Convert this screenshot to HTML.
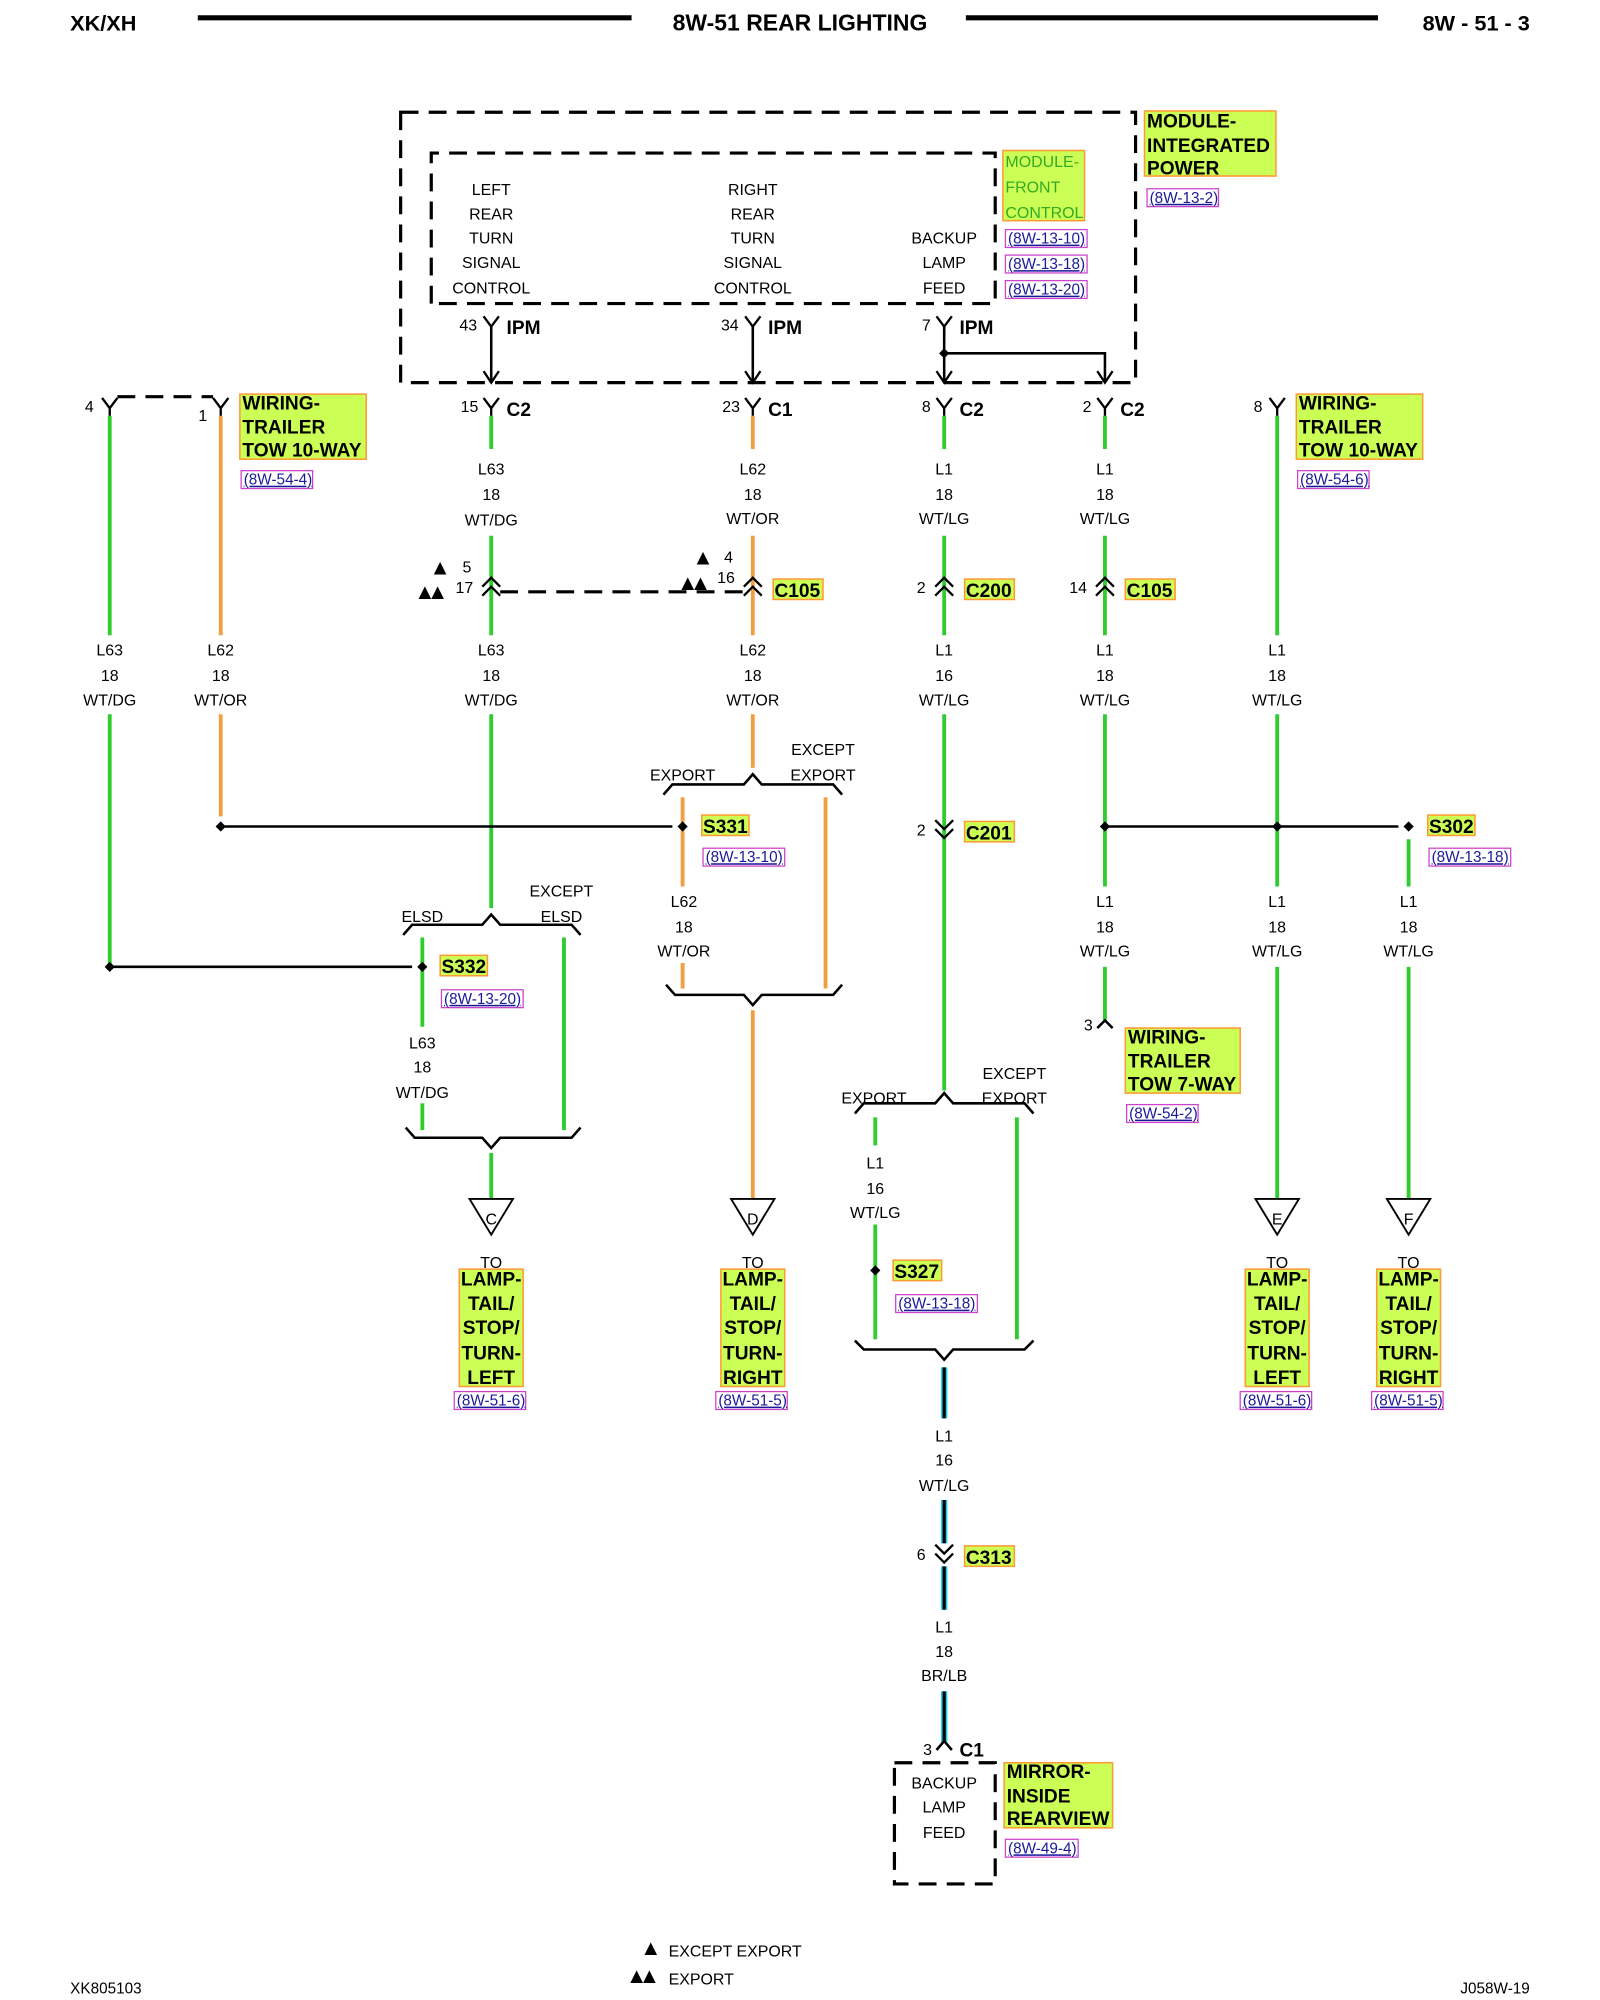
<!DOCTYPE html>
<html><head><meta charset="utf-8"><style>
html,body{margin:0;padding:0;background:#fff;}
svg{display:block;}
.t{font-family:"Liberation Sans",sans-serif;font-size:12.5px;text-anchor:middle;fill:#000;}
.b{font-family:"Liberation Sans",sans-serif;font-size:15px;font-weight:bold;fill:#000;}
.h{font-family:"Liberation Sans",sans-serif;font-size:17px;font-weight:bold;fill:#000;}
.r{font-family:"Liberation Sans",sans-serif;font-size:12px;fill:#1a1a99;text-decoration:underline;}
.g{stroke:#2ecc2e;stroke-width:3;fill:none;}
.o{stroke:#f0a040;stroke-width:3;fill:none;}
.k{stroke:#000;stroke-width:2;fill:none;}
.d{stroke:#000;stroke-width:2.5;fill:none;stroke-dasharray:14,8;}
.lab{fill:#ccff55;stroke:#ff9933;stroke-width:1.2;}
.ref{fill:#fff;stroke:#cc44cc;stroke-width:1;}
</style></head><body>
<svg width="1600" height="2000" viewBox="0 0 1254 1568" preserveAspectRatio="none" xmlns="http://www.w3.org/2000/svg">
<defs>
<path id="Y" d="M-6,-8 L0,0 L6,-8 M0,0 V6" stroke="#000" stroke-width="1.8" fill="none"/>
<path id="UP2" d="M-7,0 L0,-7 L7,0 M-7,7 L0,0 L7,7" stroke="#000" stroke-width="1.8" fill="none"/>
<path id="DN2" d="M-7,-7 L0,0 L7,-7 M-7,0 L0,7 L7,0" stroke="#000" stroke-width="1.8" fill="none"/>
<path id="AR" d="M-6,-9 L0,0 L6,-9" stroke="#000" stroke-width="1.8" fill="none"/>
<path id="TRI" d="M-17,0 L17,0 L0,28 Z" stroke="#000" stroke-width="1.5" fill="#fff"/>
<path id="DOT" d="M-4,0 L0,-4 L4,0 L0,4 Z" fill="#000"/>
</defs>

<!-- header -->
<text class="h" x="55" y="24">XK/XH</text>
<line x1="155" y1="14" x2="495" y2="14" stroke="#000" stroke-width="4"/>
<text class="h" x="627" y="24" text-anchor="middle" style="font-size:18px">8W-51 REAR LIGHTING</text>
<line x1="757" y1="14" x2="1080" y2="14" stroke="#000" stroke-width="4"/>
<text class="h" x="1199" y="24" text-anchor="end">8W - 51 - 3</text>

<!-- module boxes -->
<rect x="314" y="88" width="576" height="212" class="d"/>
<path d="M338,238 V120 H780 V238 Z" class="d"/>
<rect x="897" y="87" width="103" height="51" class="lab"/>
<text class="b" x="899" y="100">MODULE-</text><text class="b" x="899" y="119">INTEGRATED</text><text class="b" x="899" y="137">POWER</text>
<rect x="899" y="148" width="56" height="14" class="ref"/><text class="r" x="901" y="159">(8W-13-2)</text>
<rect x="786" y="118" width="64" height="55" class="lab"/>
<text x="788" y="131" style="font-family:'Liberation Sans',sans-serif;font-size:12.5px;fill:#33aa22">MODULE-</text>
<text x="788" y="151" style="font-family:'Liberation Sans',sans-serif;font-size:12.5px;fill:#33aa22">FRONT</text>
<text x="788" y="171" style="font-family:'Liberation Sans',sans-serif;font-size:12.5px;fill:#33aa22">CONTROL</text>
<rect x="788" y="180" width="64" height="14" class="ref"/><text class="r" x="790" y="191">(8W-13-10)</text>
<rect x="788" y="200" width="64" height="14" class="ref"/><text class="r" x="790" y="211">(8W-13-18)</text>
<rect x="788" y="220" width="64" height="14" class="ref"/><text class="r" x="790" y="231">(8W-13-20)</text>
<text class="t" x="385" y="153">LEFT</text><text class="t" x="385" y="172">REAR</text><text class="t" x="385" y="191">TURN</text><text class="t" x="385" y="210">SIGNAL</text><text class="t" x="385" y="230">CONTROL</text>
<text class="t" x="590" y="153">RIGHT</text><text class="t" x="590" y="172">REAR</text><text class="t" x="590" y="191">TURN</text><text class="t" x="590" y="210">SIGNAL</text><text class="t" x="590" y="230">CONTROL</text>
<text class="t" x="740" y="191">BACKUP</text><text class="t" x="740" y="210">LAMP</text><text class="t" x="740" y="230">FEED</text>

<!-- IPM connectors -->
<g>
<use href="#Y" x="385" y="256"/><line x1="385" y1="256" x2="385" y2="300" class="k"/><use href="#AR" x="385" y="300"/>
<use href="#Y" x="590" y="256"/><line x1="590" y1="256" x2="590" y2="300" class="k"/><use href="#AR" x="590" y="300"/>
<use href="#Y" x="740" y="256"/><line x1="740" y1="256" x2="740" y2="300" class="k"/><use href="#AR" x="740" y="300"/>
<path d="M740,277 H866 V300" class="k"/><use href="#AR" x="866" y="300"/><use href="#DOT" x="740" y="277"/>
<text class="t" x="367" y="259">43</text><text class="b" x="397" y="262">IPM</text>
<text class="t" x="572" y="259">34</text><text class="b" x="602" y="262">IPM</text>
<text class="t" x="726" y="259">7</text><text class="b" x="752" y="262">IPM</text>
</g>

<!-- row of connectors y 318 -->
<use href="#Y" x="86" y="320"/><text class="t" x="70" y="323">4</text>
<use href="#Y" x="173" y="320"/><text class="t" x="159" y="330">1</text>
<path d="M92,311 H167" class="d" stroke-width="2"/>
<use href="#Y" x="385" y="320"/><text class="t" x="368" y="323">15</text><text class="b" x="397" y="326">C2</text>
<use href="#Y" x="590" y="320"/><text class="t" x="573" y="323">23</text><text class="b" x="602" y="326">C1</text>
<use href="#Y" x="740" y="320"/><text class="t" x="726" y="323">8</text><text class="b" x="752" y="326">C2</text>
<use href="#Y" x="866" y="320"/><text class="t" x="852" y="323">2</text><text class="b" x="878" y="326">C2</text>
<use href="#Y" x="1001" y="320"/><text class="t" x="986" y="323">8</text>

<rect x="188" y="309" width="99" height="51" class="lab"/>
<text class="b" x="190" y="321">WIRING-</text><text class="b" x="190" y="340">TRAILER</text><text class="b" x="190" y="358">TOW 10-WAY</text>
<rect x="189" y="369" width="56" height="14" class="ref"/><text class="r" x="191" y="380">(8W-54-4)</text>
<rect x="1016" y="309" width="99" height="51" class="lab"/>
<text class="b" x="1018" y="321">WIRING-</text><text class="b" x="1018" y="340">TRAILER</text><text class="b" x="1018" y="358">TOW 10-WAY</text>
<rect x="1017" y="369" width="56" height="14" class="ref"/><text class="r" x="1019" y="380">(8W-54-6)</text>

<!-- left wires -->
<line x1="86" y1="326" x2="86" y2="498" class="g"/><line x1="86" y1="560" x2="86" y2="758" class="g"/>
<text class="t" x="86" y="514">L63</text><text class="t" x="86" y="534">18</text><text class="t" x="86" y="553">WT/DG</text>
<line x1="173" y1="326" x2="173" y2="498" class="o"/><line x1="173" y1="560" x2="173" y2="640" class="o"/>
<text class="t" x="173" y="514">L62</text><text class="t" x="173" y="534">18</text><text class="t" x="173" y="553">WT/OR</text>

<!-- x385 -->
<line x1="385" y1="326" x2="385" y2="352" class="g"/>
<text class="t" x="385" y="372">L63</text><text class="t" x="385" y="392">18</text><text class="t" x="385" y="412">WT/DG</text>
<line x1="385" y1="420" x2="385" y2="498" class="g"/>
<use href="#UP2" x="385" y="460"/>
<text class="t" x="366" y="449">5</text><text class="t" x="364" y="465">17</text>
<text x="340" y="449" style="font-size:13px;font-family:'DejaVu Sans',sans-serif">▲</text>
<text x="328" y="468" style="font-size:13px;font-family:'DejaVu Sans',sans-serif">▲▲</text>
<path d="M392,464 H585" class="d" stroke-width="2"/>
<text class="t" x="385" y="514">L63</text><text class="t" x="385" y="534">18</text><text class="t" x="385" y="553">WT/DG</text>
<line x1="385" y1="560" x2="385" y2="712" class="g"/>

<!-- x590 -->
<line x1="590" y1="326" x2="590" y2="352" class="o"/>
<text class="t" x="590" y="372">L62</text><text class="t" x="590" y="392">18</text><text class="t" x="590" y="411">WT/OR</text>
<line x1="590" y1="420" x2="590" y2="498" class="o"/>
<use href="#UP2" x="590" y="460"/>
<text class="t" x="571" y="441">4</text><text class="t" x="569" y="457">16</text>
<text x="546" y="441" style="font-size:13px;font-family:'DejaVu Sans',sans-serif">▲</text>
<text x="534" y="461" style="font-size:13px;font-family:'DejaVu Sans',sans-serif">▲▲</text>
<rect x="606" y="454" width="39" height="16" class="lab"/><text class="b" x="607" y="468">C105</text>
<text class="t" x="590" y="514">L62</text><text class="t" x="590" y="534">18</text><text class="t" x="590" y="553">WT/OR</text>
<line x1="590" y1="560" x2="590" y2="602" class="o"/>

<!-- S331 area -->
<path d="M520,623 L527,615 H583 L590,607 L597,615 H653 L660,623" class="k"/>
<text class="t" x="535" y="612">EXPORT</text>
<text class="t" x="645" y="592">EXCEPT</text><text class="t" x="645" y="612">EXPORT</text>
<line x1="535" y1="625" x2="535" y2="695" class="o"/><line x1="535" y1="755" x2="535" y2="775" class="o"/>
<line x1="647" y1="625" x2="647" y2="775" class="o"/>
<line x1="173" y1="648" x2="527" y2="648" class="k" stroke-width="2.5"/>
<use href="#DOT" x="173" y="648"/><use href="#DOT" x="535" y="648"/>
<rect x="550" y="639" width="37" height="16" class="lab"/><text class="b" x="551" y="653">S331</text>
<rect x="551" y="665" width="64" height="14" class="ref"/><text class="r" x="553" y="676">(8W-13-10)</text>
<text class="t" x="536" y="711">L62</text><text class="t" x="536" y="731">18</text><text class="t" x="536" y="750">WT/OR</text>
<path d="M522,772 L529,780 H583 L590,788 L597,780 H653 L660,772" class="k"/>
<line x1="590" y1="792" x2="590" y2="940" class="o"/>
<use href="#TRI" x="590" y="940"/><text class="t" x="590" y="960">D</text>

<!-- S332 area -->
<path d="M316,733 L323,725 H378 L385,717 L392,725 H448 L455,733" class="k"/>
<text class="t" x="331" y="723">ELSD</text>
<text class="t" x="440" y="703">EXCEPT</text><text class="t" x="440" y="723">ELSD</text>
<line x1="331" y1="735" x2="331" y2="805" class="g"/><line x1="331" y1="865" x2="331" y2="886" class="g"/>
<line x1="442" y1="735" x2="442" y2="886" class="g"/>
<line x1="86" y1="758" x2="323" y2="758" class="k" stroke-width="2.5"/>
<use href="#DOT" x="86" y="758"/><use href="#DOT" x="331" y="758"/>
<rect x="345" y="749" width="37" height="16" class="lab"/><text class="b" x="346" y="763">S332</text>
<rect x="346" y="776" width="64" height="14" class="ref"/><text class="r" x="348" y="787">(8W-13-20)</text>
<text class="t" x="331" y="822">L63</text><text class="t" x="331" y="841">18</text><text class="t" x="331" y="861">WT/DG</text>
<path d="M318,884 L325,892 H378 L385,900 L392,892 H448 L455,884" class="k"/>
<line x1="385" y1="904" x2="385" y2="940" class="g"/>
<use href="#TRI" x="385" y="940"/><text class="t" x="385" y="960">C</text>

<!-- x740 -->
<line x1="740" y1="326" x2="740" y2="352" class="g"/>
<text class="t" x="740" y="372">L1</text><text class="t" x="740" y="392">18</text><text class="t" x="740" y="411">WT/LG</text>
<line x1="740" y1="420" x2="740" y2="498" class="g"/>
<use href="#UP2" x="740" y="460"/><text class="t" x="722" y="465">2</text>
<rect x="756" y="454" width="39" height="16" class="lab"/><text class="b" x="757" y="468">C200</text>
<text class="t" x="740" y="514">L1</text><text class="t" x="740" y="534">16</text><text class="t" x="740" y="553">WT/LG</text>
<line x1="740" y1="560" x2="740" y2="855" class="g"/>
<use href="#DN2" x="740" y="650"/><text class="t" x="722" y="655">2</text>
<rect x="756" y="644" width="39" height="16" class="lab"/><text class="b" x="757" y="658">C201</text>
<path d="M670,873 L677,865 H733 L740,857 L747,865 H803 L810,873" class="k"/>
<text class="t" x="685" y="865">EXPORT</text>
<text class="t" x="795" y="846">EXCEPT</text><text class="t" x="795" y="865">EXPORT</text>
<line x1="686" y1="876" x2="686" y2="898" class="g"/><line x1="686" y1="960" x2="686" y2="1050" class="g"/>
<line x1="797" y1="876" x2="797" y2="1050" class="g"/>
<text class="t" x="686" y="916">L1</text><text class="t" x="686" y="936">16</text><text class="t" x="686" y="955">WT/LG</text>
<use href="#DOT" x="686" y="996"/>
<rect x="700" y="988" width="38" height="16" class="lab"/><text class="b" x="701" y="1002">S327</text>
<rect x="702" y="1015" width="64" height="14" class="ref"/><text class="r" x="704" y="1026">(8W-13-18)</text>
<path d="M670,1051 L677,1058 H733 L740,1066 L747,1058 H803 L810,1051" class="k"/>
<g stroke-linecap="butt">
<line x1="740" y1="1072" x2="740" y2="1112" stroke="#22ccee" stroke-width="5"/><line x1="740" y1="1072" x2="740" y2="1112" stroke="#000" stroke-width="2.5"/>
<line x1="740" y1="1176" x2="740" y2="1262" stroke="#22ccee" stroke-width="5"/><line x1="740" y1="1176" x2="740" y2="1262" stroke="#000" stroke-width="2.5"/>
<line x1="740" y1="1326" x2="740" y2="1366" stroke="#22ccee" stroke-width="5"/><line x1="740" y1="1326" x2="740" y2="1366" stroke="#000" stroke-width="2.5"/>
</g>
<text class="t" x="740" y="1130">L1</text><text class="t" x="740" y="1149">16</text><text class="t" x="740" y="1169">WT/LG</text>
<rect x="734" y="1210" width="12" height="18" fill="#fff"/>
<use href="#DN2" x="740" y="1218"/><text class="t" x="722" y="1223">6</text>
<rect x="756" y="1212" width="39" height="16" class="lab"/><text class="b" x="757" y="1226">C313</text>
<text class="t" x="740" y="1280">L1</text><text class="t" x="740" y="1299">18</text><text class="t" x="740" y="1318">BR/LB</text>
<path d="M734,1372 L740,1365 L746,1372" class="k" stroke-width="1.8"/>
<text class="t" x="727" y="1376">3</text><text class="b" x="752" y="1377">C1</text>
<rect x="701" y="1382" width="79" height="95" class="d" stroke-width="2"/>
<text class="t" x="740" y="1402">BACKUP</text><text class="t" x="740" y="1421">LAMP</text><text class="t" x="740" y="1441">FEED</text>
<rect x="787" y="1382" width="85" height="51" class="lab"/>
<text class="b" x="789" y="1394">MIRROR-</text><text class="b" x="789" y="1413">INSIDE</text><text class="b" x="789" y="1431">REARVIEW</text>
<rect x="788" y="1442" width="57" height="14" class="ref"/><text class="r" x="790" y="1453">(8W-49-4)</text>

<!-- x866 -->
<line x1="866" y1="326" x2="866" y2="352" class="g"/>
<text class="t" x="866" y="372">L1</text><text class="t" x="866" y="392">18</text><text class="t" x="866" y="411">WT/LG</text>
<line x1="866" y1="420" x2="866" y2="498" class="g"/>
<use href="#UP2" x="866" y="460"/><text class="t" x="845" y="465">14</text>
<rect x="882" y="454" width="39" height="16" class="lab"/><text class="b" x="883" y="468">C105</text>
<text class="t" x="866" y="514">L1</text><text class="t" x="866" y="534">18</text><text class="t" x="866" y="553">WT/LG</text>
<line x1="866" y1="560" x2="866" y2="695" class="g"/>
<text class="t" x="866" y="711">L1</text><text class="t" x="866" y="731">18</text><text class="t" x="866" y="750">WT/LG</text>
<line x1="866" y1="758" x2="866" y2="800" class="g"/>
<path d="M860,806 L866,800 L872,806" class="k" stroke-width="1.8"/><text class="t" x="853" y="808">3</text>
<rect x="882" y="806" width="90" height="51" class="lab"/>
<text class="b" x="884" y="818">WIRING-</text><text class="b" x="884" y="837">TRAILER</text><text class="b" x="884" y="855">TOW 7-WAY</text>
<rect x="883" y="866" width="56" height="14" class="ref"/><text class="r" x="885" y="877">(8W-54-2)</text>

<!-- x1001 / 1104 -->
<line x1="1001" y1="326" x2="1001" y2="498" class="g"/>
<text class="t" x="1001" y="514">L1</text><text class="t" x="1001" y="534">18</text><text class="t" x="1001" y="553">WT/LG</text>
<line x1="1001" y1="560" x2="1001" y2="695" class="g"/>
<text class="t" x="1001" y="711">L1</text><text class="t" x="1001" y="731">18</text><text class="t" x="1001" y="750">WT/LG</text>
<line x1="1001" y1="758" x2="1001" y2="940" class="g"/>
<line x1="866" y1="648" x2="1096" y2="648" class="k" stroke-width="2.5"/>
<use href="#DOT" x="866" y="648"/><use href="#DOT" x="1001" y="648"/><use href="#DOT" x="1104" y="648"/>
<rect x="1119" y="639" width="37" height="16" class="lab"/><text class="b" x="1120" y="653">S302</text>
<rect x="1120" y="665" width="64" height="14" class="ref"/><text class="r" x="1122" y="676">(8W-13-18)</text>
<line x1="1104" y1="658" x2="1104" y2="695" class="g"/>
<text class="t" x="1104" y="711">L1</text><text class="t" x="1104" y="731">18</text><text class="t" x="1104" y="750">WT/LG</text>
<line x1="1104" y1="758" x2="1104" y2="940" class="g"/>
<use href="#TRI" x="1001" y="940"/><text class="t" x="1001" y="960">E</text>
<use href="#TRI" x="1104" y="940"/><text class="t" x="1104" y="960">F</text>

<!-- lamp labels -->
<text class="t" x="385" y="994">TO</text>
<rect x="360" y="995" width="50" height="92" class="lab"/>
<text class="b" x="385" y="1008" text-anchor="middle">LAMP-</text><text class="b" x="385" y="1027" text-anchor="middle">TAIL/</text><text class="b" x="385" y="1046" text-anchor="middle">STOP/</text><text class="b" x="385" y="1066" text-anchor="middle">TURN-</text><text class="b" x="385" y="1085" text-anchor="middle">LEFT</text>
<rect x="356" y="1091" width="56" height="14" class="ref"/><text class="r" x="358" y="1102">(8W-51-6)</text>

<text class="t" x="590" y="994">TO</text>
<rect x="565" y="995" width="50" height="92" class="lab"/>
<text class="b" x="590" y="1008" text-anchor="middle">LAMP-</text><text class="b" x="590" y="1027" text-anchor="middle">TAIL/</text><text class="b" x="590" y="1046" text-anchor="middle">STOP/</text><text class="b" x="590" y="1066" text-anchor="middle">TURN-</text><text class="b" x="590" y="1085" text-anchor="middle">RIGHT</text>
<rect x="561" y="1091" width="56" height="14" class="ref"/><text class="r" x="563" y="1102">(8W-51-5)</text>

<text class="t" x="1001" y="994">TO</text>
<rect x="976" y="995" width="50" height="92" class="lab"/>
<text class="b" x="1001" y="1008" text-anchor="middle">LAMP-</text><text class="b" x="1001" y="1027" text-anchor="middle">TAIL/</text><text class="b" x="1001" y="1046" text-anchor="middle">STOP/</text><text class="b" x="1001" y="1066" text-anchor="middle">TURN-</text><text class="b" x="1001" y="1085" text-anchor="middle">LEFT</text>
<rect x="972" y="1091" width="56" height="14" class="ref"/><text class="r" x="974" y="1102">(8W-51-6)</text>

<text class="t" x="1104" y="994">TO</text>
<rect x="1079" y="995" width="50" height="92" class="lab"/>
<text class="b" x="1104" y="1008" text-anchor="middle">LAMP-</text><text class="b" x="1104" y="1027" text-anchor="middle">TAIL/</text><text class="b" x="1104" y="1046" text-anchor="middle">STOP/</text><text class="b" x="1104" y="1066" text-anchor="middle">TURN-</text><text class="b" x="1104" y="1085" text-anchor="middle">RIGHT</text>
<rect x="1075" y="1091" width="56" height="14" class="ref"/><text class="r" x="1077" y="1102">(8W-51-5)</text>

<!-- footer -->
<text x="505" y="1531" style="font-size:13px;font-family:'DejaVu Sans',sans-serif">▲</text>
<text x="524" y="1534" style="font-family:'Liberation Sans',sans-serif;font-size:12.5px">EXCEPT EXPORT</text>
<text x="494" y="1553" style="font-size:13px;font-family:'DejaVu Sans',sans-serif">▲▲</text>
<text x="524" y="1556" style="font-family:'Liberation Sans',sans-serif;font-size:12.5px">EXPORT</text>
<text x="55" y="1563" style="font-family:'Liberation Sans',sans-serif;font-size:12px">XK805103</text>
<text x="1199" y="1563" text-anchor="end" style="font-family:'Liberation Sans',sans-serif;font-size:12px">J058W-19</text>
</svg>
</body></html>
